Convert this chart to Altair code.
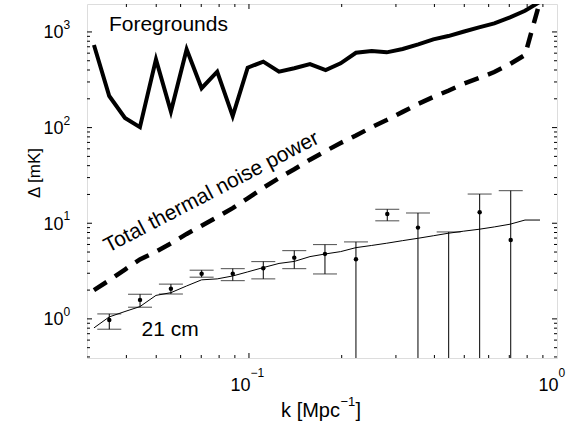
import altair as alt
import pandas as pd

# ---------------- data ----------------
k_grid = [0.03139, 0.03519, 0.03958, 0.04426, 0.04990, 0.05580, 0.06276, 0.07019,
          0.07887, 0.08855, 0.09904, 0.1113, 0.1252, 0.1403, 0.1578, 0.1774,
          0.1984, 0.2225, 0.2503, 0.2800, 0.3155, 0.3545, 0.3967, 0.4437,
          0.4963, 0.5582, 0.6258, 0.7038, 0.7873, 0.8807]
foreground = [730, 214, 126, 101, 517, 147, 658, 258, 384, 132, 423, 489, 384, 417,
              462, 400, 470, 606, 631, 612, 663, 742, 837, 906, 1005, 1117, 1230,
              1422, 1666, 2069]
noise = [2.0, 2.53, 3.28, 4.19, 5.04, 6.15, 7.73, 9.42, 11.6, 14.4, 18.2, 23.5, 29.7,
         36.7, 46.2, 56.9, 69, 82.6, 101, 120, 146, 177, 209, 243, 286, 330, 381,
         462, 574, 2100]
model21 = [0.805, 1.049, 1.195, 1.344, 1.76, 1.88, 2.21, 2.56, 2.62, 2.81, 3.10, 3.44,
           3.80, 3.99, 4.48, 4.78, 5.05, 5.56, 5.86, 6.18, 6.58, 6.97, 7.40, 7.86,
           8.25, 8.65, 9.15, 9.77, 10.8, 10.8]

k21 = [0.0352, 0.0443, 0.0558, 0.0702, 0.0886, 0.1113, 0.1403, 0.1765, 0.2225,
       0.2812, 0.3537, 0.4450, 0.5610, 0.7076]
d21 = [0.976, 1.58, 2.07, 2.97, 2.97, 3.39, 4.37, 4.78, 4.21, 12.5, 9.0, None, 13.0, 6.69]
hi21 = [1.127, 1.81, 2.31, 3.23, 3.35, 3.97, 5.17, 5.98, 6.38, 14.0, 12.8, 8.11, 20.2, 21.9]
lo21 = [0.780, 1.325, 1.82, 2.73, 2.51, 2.62, 3.35, 2.95, None, 10.6, None, None, None, None]

# tick labels: base "10" plus exponent
x_label_vals = [0.1, 1.0]
x_label_exp = ["−1", "0"]
y_label_vals = [1, 10, 100, 1000]
y_label_exp = ["0", "1", "2", "3"]
label_base = "10"

# x-axis title pieces: main text, superscript, closing bracket
x_title_parts = ["k [Mpc", "−1", "]"]

x_major_ticks = [0.1]
x_minor_ticks = [0.04, 0.05, 0.06, 0.07, 0.08, 0.09, 0.2, 0.3, 0.4, 0.5, 0.6, 0.7, 0.8, 0.9]
y_major_ticks = [1, 10, 100, 1000]
y_minor_ticks = [0.4, 0.5, 0.6, 0.7, 0.8, 0.9, 2, 3, 4, 5, 6, 7, 8, 9,
                 20, 30, 40, 50, 60, 70, 80, 90, 200, 300, 400, 500, 600, 700, 800, 900]

annot_text = ["Foregrounds", "21 cm"]
annot_k = [0.0351, 0.0448]
annot_v = [1022, 0.656]
noise_label = ["Total thermal noise power"]
noise_label_k = [0.0349]
noise_label_v = [4.89]

X_DOMAIN = [0.0298, 1.0]
Y_DOMAIN = [0.39, 1960]
W, H = 470, 354
FONT = "Liberation Sans"

xs = alt.Scale(type="log", domain=X_DOMAIN, nice=False)
ys = alt.Scale(type="log", domain=Y_DOMAIN, nice=False)

x_axis = alt.Axis(values=x_label_vals, labelExpr=f"'{label_base}'",
                  ticks=False, domain=False, grid=False,
                  labelFont=FONT, labelFontSize=18, labelColor="black",
                  labelPadding=32, labelBaseline="alphabetic", labelAlign="right",
                  labelOffset=1, labelFlush=False, labelOverlap=False,
                  title=None)
y_axis = alt.Axis(values=y_label_vals, labelExpr=f"'{label_base}'",
                  ticks=False, domain=False, grid=False,
                  labelFont=FONT, labelFontSize=18, labelColor="black",
                  labelPadding=24, labelFlush=False, labelOverlap=False,
                  labelOffset=1,
                  title="Δ [mK]", titleFont=FONT, titleFontSize=17,
                  titleFontWeight="normal", titleColor="black",
                  titleX=-53, titleY=168.5, titleAngle=270, titleAlign="center",
                  titleBaseline="middle")


def X(field):
    return alt.X(field, scale=xs, axis=x_axis)


def Y(field):
    return alt.Y(field, scale=ys, axis=y_axis)


grid_df = pd.DataFrame({"k": k_grid, "fg": foreground, "noise": noise, "model": model21})
pts_df = pd.DataFrame({"k": k21, "d": d21, "hi": hi21, "lo": lo21})
pts_df["lo_bar"] = pts_df["lo"].fillna(Y_DOMAIN[0])

fg_line = alt.Chart(grid_df).mark_line(color="black", strokeWidth=4, clip=True,
                                       strokeJoin="miter").encode(
    x=X("k:Q"), y=Y("fg:Q"))
noise_line = alt.Chart(grid_df).mark_line(color="black", strokeWidth=4.5, clip=True,
                                          strokeDash=[15, 10], strokeCap="butt").encode(
    x=X("k:Q"), y=Y("noise:Q"))
model_line = alt.Chart(grid_df).mark_line(color="black", strokeWidth=1, clip=True).encode(
    x=X("k:Q"), y=Y("model:Q"))
bars = alt.Chart(pts_df).mark_rule(color="black", strokeWidth=1, clip=True).encode(
    x=X("k:Q"), y=Y("lo_bar:Q"), y2="hi:Q")
cap_hi = alt.Chart(pts_df).mark_tick(color="black", orient="horizontal", size=24,
                                     thickness=1, clip=True).encode(
    x=X("k:Q"), y=Y("hi:Q"))
cap_lo = alt.Chart(pts_df).transform_filter("isValid(datum.lo)").mark_tick(
    color="black", orient="horizontal", size=24, thickness=1, clip=True).encode(
    x=X("k:Q"), y=Y("lo:Q"))
dots = alt.Chart(pts_df).transform_filter("isValid(datum.d)").mark_circle(
    color="black", size=20, opacity=1, clip=True).encode(
    x=X("k:Q"), y=Y("d:Q"))

annot_df = pd.DataFrame({"t": annot_text, "k": annot_k, "v": annot_v})
annots = alt.Chart(annot_df).mark_text(font=FONT, fontSize=21, color="black",
                                       align="left", baseline="alphabetic").encode(
    x=X("k:Q"), y=Y("v:Q"), text="t:N")
nl_df = pd.DataFrame({"t": noise_label, "k": noise_label_k, "v": noise_label_v})
noise_text = alt.Chart(nl_df).mark_text(font=FONT, fontSize=21, color="black",
                                        align="left", baseline="alphabetic",
                                        angle=332.5).encode(
    x=X("k:Q"), y=Y("v:Q"), text="t:N")

# exponents of the tick labels (superscripts)
xexp_df = pd.DataFrame({"v": x_label_vals, "t": x_label_exp})
x_exp = alt.Chart(xexp_df).mark_text(font=FONT, fontSize=12, color="black",
                                     align="left", baseline="alphabetic", dx=1.5).encode(
    x=X("v:Q"), y=alt.value(H + 19), text="t:N")
yexp_df = pd.DataFrame({"v": y_label_vals, "t": y_label_exp})
y_exp = alt.Chart(yexp_df).mark_text(font=FONT, fontSize=12, color="black",
                                     align="left", baseline="alphabetic", dy=-3).encode(
    y=Y("v:Q"), x=alt.value(-23.5), text="t:N")

# x-axis title with a real superscript
TITLE_SPLIT = 253          # where "k [Mpc" ends, in plot pixels
TITLE_BASE = H + 58.7      # baseline of the title
t_main = alt.Chart(pd.DataFrame({"t": [x_title_parts[0]]})).mark_text(
    font=FONT, fontSize=20, color="black", align="right", baseline="alphabetic").encode(
    x=alt.value(TITLE_SPLIT), y=alt.value(TITLE_BASE), text="t:N")
t_sup = alt.Chart(pd.DataFrame({"t": [x_title_parts[1]]})).mark_text(
    font=FONT, fontSize=13, color="black", align="left", baseline="alphabetic").encode(
    x=alt.value(TITLE_SPLIT + 0.5), y=alt.value(TITLE_BASE - 11), text="t:N")
t_end = alt.Chart(pd.DataFrame({"t": [x_title_parts[2]]})).mark_text(
    font=FONT, fontSize=20, color="black", align="left", baseline="alphabetic").encode(
    x=alt.value(TITLE_SPLIT + 15.5), y=alt.value(TITLE_BASE), text="t:N")


def tick_layer(vals, length, side):
    df = pd.DataFrame({"v": vals})
    base = alt.Chart(df).mark_rule(color="black", strokeWidth=1)
    if side in ("bottom", "top"):
        if side == "bottom":
            return base.encode(x=X("v:Q"), y=alt.value(H), y2=alt.value(H - length))
        return base.encode(x=X("v:Q"), y=alt.value(0), y2=alt.value(length))
    if side == "left":
        return base.encode(y=Y("v:Q"), x=alt.value(0), x2=alt.value(length))
    return base.encode(y=Y("v:Q"), x=alt.value(W), x2=alt.value(W - length))


ticks = []
for side in ("bottom", "top"):
    ticks.append(tick_layer(x_major_ticks, 5, side))
    ticks.append(tick_layer(x_minor_ticks, 3, side))
for side in ("left", "right"):
    ticks.append(tick_layer(y_major_ticks, 5, side))
    ticks.append(tick_layer(y_minor_ticks, 3, side))

chart = alt.layer(
    fg_line, noise_line, model_line, bars, cap_hi, cap_lo, dots, annots, noise_text,
    x_exp, y_exp, t_main, t_sup, t_end, *ticks
).properties(
    width=W, height=H,
    autosize=alt.AutoSizeParams(type="none"),
    padding={"left": 87, "top": 4, "right": 15, "bottom": 76},
).configure_view(
    stroke="black", strokeWidth=2
).configure(
    font=FONT, background="white"
)

chart.save("out.html", embed_options={"renderer": "svg", "actions": False})
